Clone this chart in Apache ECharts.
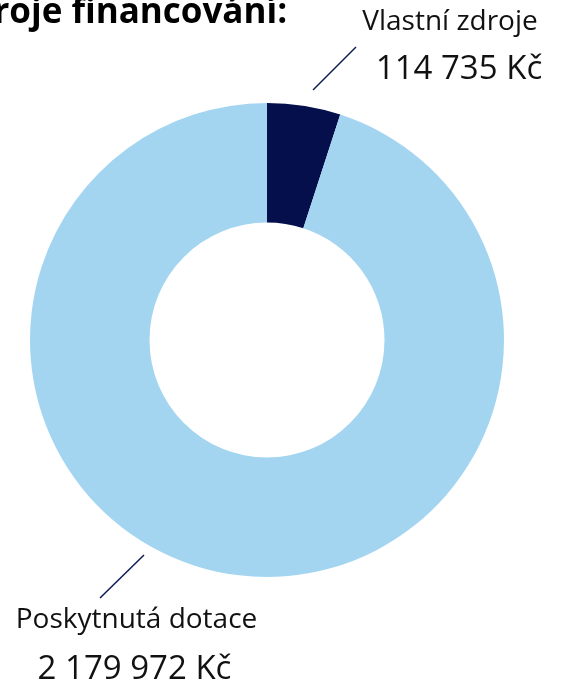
<!DOCTYPE html>
<html>
<head>
<meta charset="utf-8">
<script src="https://cdn.jsdelivr.net/npm/echarts@6/dist/echarts.min.js"></script>
<style>
html,body{margin:0;padding:0;background:#fff;}
#chart{width:562px;height:687px;}
</style>
</head>
<body>
<div id="chart"></div>
<script>
var titleText = 'Zdroje financování:';
var categories = ['Vlastní zdroje', 'Poskytnutá dotace'];
var values = [114735, 2179972];
var colors = ['#040f4c', '#a3d5f1'];
var currency = 'Kč';

function fmt(v) {
  return String(v).replace(/\B(?=(\d{3})+(?!\d))/g, ' ') + ' ' + currency;
}

var chart = echarts.init(document.getElementById('chart'), null, {renderer: 'canvas'});
var CX = 267, CY = 340;

// label layout offsets relative to the pie centre
var labelCfg = [
  {x: 459, y: 2, line: [[46, -250], [89, -293]],
   rich: {n: {fontSize: 28, lineHeight: 40, padding: [0, 18, 0, 0]}, v: {fontSize: 33, lineHeight: 55}}},
  {x: 136.5, y: 598, line: [[-123, 215], [-167, 258]],
   rich: {n: {fontSize: 28, lineHeight: 44}, v: {fontSize: 33, lineHeight: 55, padding: [0, 4, 0, 0]}}}
];

var data = categories.map(function (c, i) {
  return {
    name: c,
    value: values[i],
    itemStyle: {color: colors[i]},
    label: {
      formatter: '{n|{b}}\n{v|' + fmt(values[i]) + '}',
      rich: labelCfg[i].rich
    }
  };
});

chart.setOption({
  animation: false,
  backgroundColor: '#ffffff',
  title: {
    text: titleText,
    left: -54,
    top: -9,
    textStyle: {fontFamily: 'Open Sans', fontWeight: 'bold', fontSize: 35, color: '#000000'}
  },
  series: [{
    type: 'pie',
    center: [CX, CY],
    radius: [117.5, 237],
    startAngle: 90,
    clockwise: true,
    avoidLabelOverlap: false,
    itemStyle: {borderWidth: 0},
    label: {
      show: true,
      position: 'outside',
      color: '#111111',
      fontFamily: 'Open Sans',
      align: 'center'
    },
    labelLine: {show: true, lineStyle: {color: '#0b1a55', width: 1.5}},
    labelLayout: function (params) {
      var c = labelCfg[params.dataIndex];
      return {
        x: c.x,
        y: c.y,
        align: 'center',
        verticalAlign: 'top',
        labelLinePoints: c.line.map(function (p) { return [CX + p[0], CY + p[1]]; })
      };
    },
    data: data
  }]
});
</script>
</body>
</html>
